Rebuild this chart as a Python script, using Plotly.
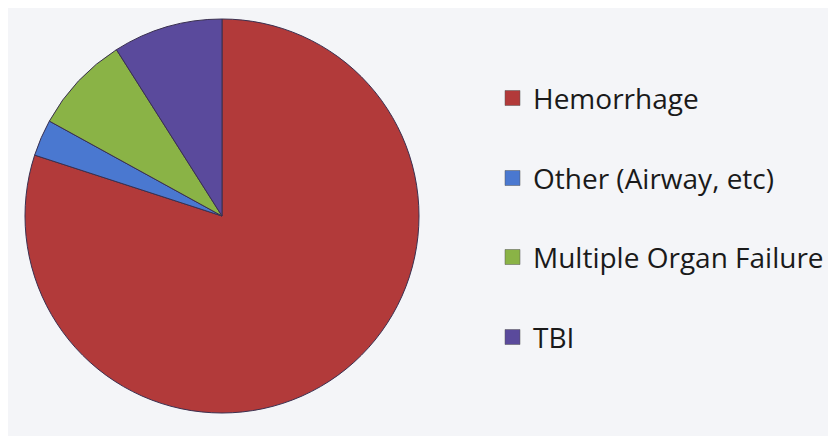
import plotly.graph_objects as go

labels = ["Hemorrhage", "Other (Airway, etc)", "Multiple Organ Failure", "TBI"]
values = [80, 3, 8, 9]
colors = ["#B23A3A", "#4A78D0", "#8AB346", "#5A4A9C"]

W, H = 828, 428
OFF = 8  # page body margin
cx, cy, r = 222 - OFF, 216 - OFF, 197

fig = go.Figure()
fig.add_trace(go.Pie(
    labels=labels, values=values, sort=False, direction="clockwise", rotation=0,
    marker=dict(colors=colors, line=dict(color="#3a3050", width=1)),
    textinfo="none", hoverinfo="label+percent", showlegend=False,
    domain=dict(x=[(cx - r) / W, (cx + r) / W], y=[1 - (cy + r) / H, 1 - (cy - r) / H]),
))

row_y = [98 - OFF, 178 - OFF, 257 - OFF, 337 - OFF]
sq_x0, sq_size, text_x = 505 - OFF, 15, 531 - OFF
for lab, col, yy in zip(labels, colors, row_y):
    fig.add_shape(type="rect", xref="paper", yref="paper",
                  x0=sq_x0 / W, x1=(sq_x0 + sq_size) / W,
                  y0=1 - (yy + sq_size / 2) / H, y1=1 - (yy - sq_size / 2) / H,
                  fillcolor=col, line=dict(color="#555", width=0.5))
    fig.add_annotation(xref="paper", yref="paper", x=text_x / W, y=1 - yy / H,
                       text=lab, showarrow=False, xanchor="left", yanchor="middle",
                       font=dict(family="Open Sans", size=28, color="#1a1a1a"))

fig.update_layout(
    width=W, height=H, margin=dict(l=0, r=0, t=0, b=0),
    paper_bgcolor="#F4F5F8", plot_bgcolor="#F4F5F8",
)
fig.write_html("out.html")
